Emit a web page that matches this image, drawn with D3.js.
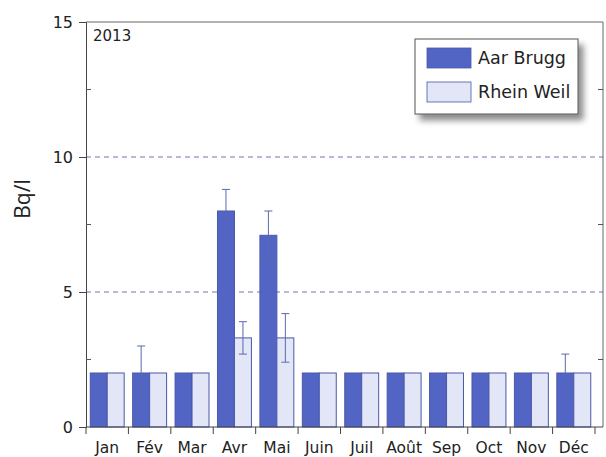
<!DOCTYPE html>
<html>
<head>
<meta charset="utf-8">
<script src="https://cdn.jsdelivr.net/npm/d3@7"></script>
<style>
	body { margin: 0; background: #fff; }
	svg { display: block; }
	text { font-family: "DejaVu Sans", Verdana, sans-serif; fill: #222; }
</style>
</head>
<body>
<svg id="chart" width="606" height="457"></svg>
<script>
// Monthly values (Bq/l)
const months = ['Jan', 'Fév', 'Mar', 'Avr', 'Mai', 'Juin', 'Juil', 'Août', 'Sep', 'Oct', 'Nov', 'Déc'];
const seriesNames = ['Aar Brugg', 'Rhein Weil'];
const aarValues = [2, 2, 2, 8, 7.1, 2, 2, 2, 2, 2, 2, 2];
const aarLow = [null, 1, null, 7.2, 6.2, null, null, null, null, null, null, 1.3];
const aarHigh = [null, 3, null, 8.8, 8.0, null, null, null, null, null, null, 2.7];
const rheinValues = [2, 2, 2, 3.3, 3.3, 2, 2, 2, 2, 2, 2, 2];
const rheinLow = [null, null, null, 2.7, 2.4, null, null, null, null, null, null, null];
const rheinHigh = [null, null, null, 3.9, 4.2, null, null, null, null, null, null, null];
const yMajorTicks = [0, 5, 10, 15];
const yMinorTicks = [2.5, 7.5, 12.5];
const gridValues = [5, 10];
const yearLabel = '2013';
const yTitle = 'Bq/l';

const colors = ['#5365c4', '#e3e6f7'];
const barStroke = '#4a58a8';
const errColor = '#5a68b2';

const svg = d3.select('#chart');
const plotLeft = 86, plotTop = 22, plotRight = 603, plotBottom = 427;

const x = d3.scaleBand().domain(months).range([plotLeft, 595]).paddingInner(0.2).paddingOuter(0.1);
const x1 = d3.scaleBand().domain(seriesNames).range([0, x.bandwidth()]);
const y = d3.scaleLinear().domain([0, 15]).range([plotBottom, plotTop]);

const rows = months.map((m, i) => ({
	month: m,
	bars: [
		{ name: seriesNames[0], value: aarValues[i], lo: aarLow[i], hi: aarHigh[i], color: colors[0] },
		{ name: seriesNames[1], value: rheinValues[i], lo: rheinLow[i], hi: rheinHigh[i], color: colors[1] },
	],
}));

// Shadow for the legend box
const defs = svg.append('defs');
defs.append('filter').attr('id', 'shadow').attr('x', '-20%').attr('y', '-20%').attr('width', '150%').attr('height', '160%')
	.append('feDropShadow').attr('dx', 5).attr('dy', 6).attr('stdDeviation', 3)
	.attr('flood-color', '#000').attr('flood-opacity', 0.45);

// Gridlines
svg.append('g').selectAll('line').data(gridValues).enter().append('line')
	.attr('x1', plotLeft).attr('x2', plotRight).attr('y1', d => y(d)).attr('y2', d => y(d))
	.attr('stroke', '#6c76bc').attr('stroke-width', 1).attr('stroke-dasharray', '5,4');

// Frame (top and right)
svg.append('path')
	.attr('d', `M${plotLeft},${y(15)}H${plotRight}V${y(0)}`)
	.attr('fill', 'none').attr('stroke', '#666').attr('stroke-width', 1);

// Bars
const groups = svg.append('g').selectAll('g').data(rows).enter().append('g')
	.attr('transform', d => `translate(${x(d.month)},0)`);

groups.selectAll('rect').data(d => d.bars).enter().append('rect')
	.attr('x', d => x1(d.name)).attr('width', x1.bandwidth())
	.attr('y', d => y(d.value)).attr('height', d => y(0) - y(d.value))
	.attr('fill', d => d.color).attr('stroke', barStroke).attr('stroke-width', 1);

// Error bars
const errs = groups.selectAll('g.err').data(d => d.bars.filter(b => b.hi != null)).enter().append('g')
	.attr('class', 'err')
	.attr('stroke', errColor).attr('stroke-width', 1);
const cx = d => x1(d.name) + x1.bandwidth() / 2;
errs.append('line')
	.attr('x1', cx).attr('x2', cx)
	.attr('y1', d => y(d.lo)).attr('y2', d => y(d.hi));
errs.append('line')
	.attr('x1', d => cx(d) - 4).attr('x2', d => cx(d) + 4)
	.attr('y1', d => y(d.hi)).attr('y2', d => y(d.hi));
errs.append('line')
	.attr('x1', d => cx(d) - 4).attr('x2', d => cx(d) + 4)
	.attr('y1', d => y(d.lo)).attr('y2', d => y(d.lo));

// Y axis
const yAxis = svg.append('g').attr('transform', `translate(${plotLeft},0)`)
	.call(d3.axisLeft(y).tickValues(yMajorTicks).tickSize(7).tickPadding(6).tickFormat(d3.format('d')));
yAxis.select('.domain').attr('stroke', '#444');
yAxis.selectAll('.tick line').attr('stroke', '#444');
yAxis.selectAll('text').attr('font-size', 16).attr('font-family', '"DejaVu Sans", Verdana, sans-serif').attr('fill', '#222');

// Minor ticks pointing inward, both sides
svg.append('g').selectAll('line').data(yMinorTicks).enter().append('line')
	.attr('x1', plotLeft).attr('x2', plotLeft + 5).attr('y1', d => y(d)).attr('y2', d => y(d)).attr('stroke', '#555');
svg.append('g').selectAll('line').data(yMinorTicks).enter().append('line')
	.attr('x1', plotRight).attr('x2', plotRight - 5).attr('y1', d => y(d)).attr('y2', d => y(d)).attr('stroke', '#555');

// X axis: line, boundary ticks, month labels
svg.append('line').attr('x1', plotLeft).attr('x2', plotRight).attr('y1', y(0)).attr('y2', y(0)).attr('stroke', '#444');
const step = x.step();
const boundaries = d3.range(months.length + 1).map(i => x(months[0]) - step * 0.1 + i * step);
svg.append('g').selectAll('line').data(boundaries).enter().append('line')
	.attr('x1', d => d).attr('x2', d => d).attr('y1', y(0)).attr('y2', y(0) + 7).attr('stroke', '#444');
svg.append('g').selectAll('text').data(months).enter().append('text')
	.attr('x', d => x(d) + x.bandwidth() / 2).attr('y', 453)
	.attr('text-anchor', 'middle').attr('font-size', 15.5).text(d => d);

// Year label
svg.append('text').attr('x', 93).attr('y', 41).attr('font-size', 15).text(yearLabel);

// Y title
svg.append('text').attr('transform', 'translate(30,199) rotate(-90)')
	.attr('text-anchor', 'middle').attr('font-size', 21)
	.style('font-family', '"Open Sans", sans-serif').text(yTitle);

// Legend
const legend = svg.append('g');
legend.append('rect').attr('x', 415).attr('y', 39).attr('width', 163).attr('height', 75)
	.attr('fill', '#fff').attr('stroke', '#555').attr('filter', 'url(#shadow)');
const items = legend.selectAll('g').data(seriesNames).enter().append('g')
	.attr('transform', (d, i) => `translate(427,${48 + i * 34})`);
items.append('rect').attr('width', 44).attr('height', 20)
	.attr('fill', (d, i) => colors[i]).attr('stroke', barStroke).attr('stroke-width', 0.8);
items.append('text').attr('x', 51).attr('y', 16).attr('font-size', 17.5).text(d => d);
</script>
</body>
</html>
